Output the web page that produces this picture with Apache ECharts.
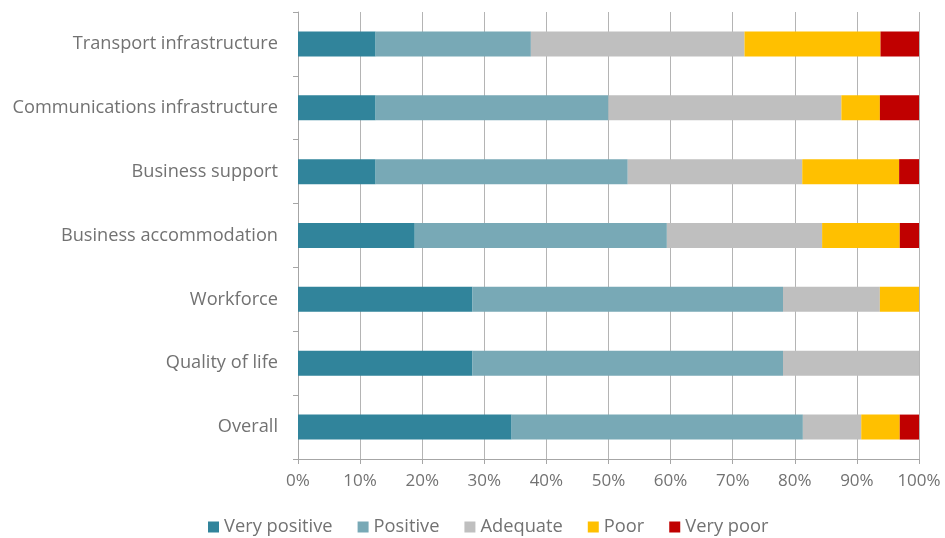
<!DOCTYPE html>
<html>
<head>
<meta charset="utf-8">
<script src="https://cdn.jsdelivr.net/npm/echarts@6/dist/echarts.min.js"></script>
<style>
  html, body { margin: 0; padding: 0; background: #fff; }
  #chart { width: 945px; height: 538px; }
</style>
</head>
<body>
<div id="chart"></div>
<script>
// Ratings of the local business environment, share of respondents (%)
const categories = [
  'Transport infrastructure',
  'Communications infrastructure',
  'Business support',
  'Business accommodation',
  'Workforce',
  'Quality of life',
  'Overall'
];
const seriesNames = ['Very positive', 'Positive', 'Adequate', 'Poor', 'Very poor'];
const veryPositive = [12.5, 12.5, 12.5, 18.8, 28.1, 28.1, 34.4];
const positive     = [25.0, 37.5, 40.6, 40.6, 50.0, 50.0, 46.9];
const adequate     = [34.4, 37.5, 28.1, 25.0, 15.6, 21.9,  9.4];
const poor         = [21.9,  6.2, 15.6, 12.5,  6.3,  0.0,  6.2];
const veryPoor     = [ 6.2,  6.3,  3.2,  3.1,  0.0,  0.0,  3.1];
const xTicks = [0, 10, 20, 30, 40, 50, 60, 70, 80, 90, 100];

const colors = ['#31849B', '#78A9B6', '#BFBFBF', '#FFC000', '#C00000'];
const values = [veryPositive, positive, adequate, poor, veryPoor];

const textColor = '#727272';
const lineColor = '#A6A6A6';
const fontFamily = '"Open Sans", Lato, sans-serif';

const chart = echarts.init(document.getElementById('chart'));
chart.setOption({
  animation: false,
  color: colors,
  textStyle: { fontFamily: fontFamily },
  grid: { left: 298, right: 26, top: 12, bottom: 79, containLabel: false },
  xAxis: {
    type: 'value',
    min: xTicks[0],
    max: xTicks[xTicks.length - 1],
    interval: 10,
    axisLine: { show: true, lineStyle: { color: lineColor, width: 1 } },
    axisTick: { show: true, length: 5, lineStyle: { color: lineColor } },
    splitLine: { show: true, lineStyle: { color: '#B4B4B4', width: 1 } },
    axisLabel: {
      color: textColor, fontSize: 17, margin: 14,
      formatter: v => v + '%'
    }
  },
  yAxis: {
    type: 'category',
    inverse: true,
    data: categories,
    axisLine: { show: true, lineStyle: { color: lineColor, width: 1 } },
    axisTick: { show: true, length: 5, lineStyle: { color: lineColor } },
    axisLabel: { color: textColor, fontSize: 18.2, margin: 20 }
  },
  legend: {
    top: 513,
    left: 203,
    icon: 'rect',
    itemWidth: 11,
    itemHeight: 11,
    itemGap: 25,
    textStyle: { color: textColor, fontSize: 18.3, padding: [0, 0, 0, 0] },
    data: seriesNames
  },
  series: seriesNames.map((name, i) => ({
    name: name,
    type: 'bar',
    stack: 'total',
    barWidth: 25,
    data: values[i],
    itemStyle: { color: colors[i] }
  }))
});
</script>
</body>
</html>
